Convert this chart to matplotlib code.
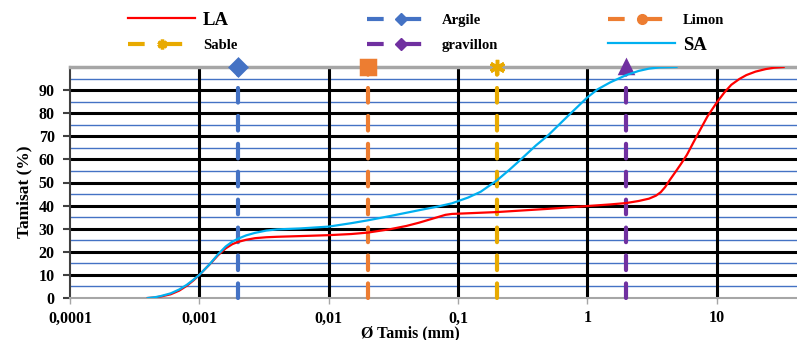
import matplotlib.pyplot as plt
from matplotlib.lines import Line2D
from matplotlib.ticker import FixedLocator, FixedFormatter, NullLocator

plt.rcParams['font.family'] = ['Liberation Serif', 'DejaVu Serif']
plt.rcParams['font.weight'] = 'bold'

# grain size curves (diameter mm, % passing)
la_d = [0.0004, 0.00045, 0.0005, 0.0006, 0.0007, 0.0008, 0.0009, 0.001, 0.0012, 0.0014,
        0.0016, 0.0018, 0.002, 0.0023, 0.0027, 0.0033, 0.004, 0.006, 0.01, 0.015,
        0.02, 0.03, 0.04, 0.05, 0.065, 0.08, 0.09, 0.1, 0.2, 0.5,
        1.0, 1.5, 2.0, 2.5, 3.0, 3.4, 3.7, 4.0, 4.4, 4.8,
        5.3, 5.9, 6.6, 7.5, 8.5, 10, 11.5, 13, 15, 17,
        20, 24, 28, 33]
la_p = [0, 0.2, 0.6, 1.6, 3.2, 5.3, 7.6, 10, 14.5, 18.6,
        21.5, 23.3, 24.3, 25.2, 25.9, 26.3, 26.5, 26.8, 27.2, 27.7,
        28.3, 29.8, 31.2, 32.6, 34.5, 36.0, 36.4, 36.5, 37.2, 38.6,
        39.8, 40.5, 41.1, 42.0, 43.0, 44.3, 45.8, 48.0, 51.5, 54.5,
        58.0, 62.0, 67.2, 73.0, 78.6, 84.5, 89.0, 92.3, 94.8, 96.5,
        98.0, 99.1, 99.7, 100]

sa_d = [0.0004, 0.00045, 0.0005, 0.0006, 0.0007, 0.0008, 0.0009, 0.001, 0.0012, 0.0014,
        0.0016, 0.0018, 0.002, 0.0023, 0.0027, 0.0033, 0.004, 0.006, 0.01, 0.015,
        0.02, 0.03, 0.05, 0.07, 0.09, 0.12, 0.15, 0.2, 0.25, 0.3,
        0.4, 0.5, 0.7, 1.0, 1.2, 1.5, 2.0, 2.5, 3.0, 3.6, 4.9]
sa_p = [0, 0.3, 0.8, 2.0, 3.7, 5.7, 7.9, 10, 14.6, 19.0,
        22.3, 24.4, 25.7, 27.1, 28.2, 29.2, 29.7, 30.1, 30.9, 32.4,
        33.6, 35.5, 38.0, 39.6, 41.0, 43.5, 46.0, 50.9, 55.5, 59.5,
        66.0, 70.5, 78.5, 86.8, 90.3, 93.3, 96.5, 98.3, 99.3, 99.8, 100]

# class limits (mm)
limit_names = ['Argile', 'Limon', 'Sable', 'gravillon']
limit_d = [0.002, 0.02, 0.2, 2]
limit_colors = ['#4472C4', '#ED7D31', '#E8AA00', '#7030A0']
limit_markers = ['D', 's', (6, 2, 0), '^']
limit_msize = [8, 10, 11, 9]

x_ticks = [0.0001, 0.001, 0.01, 0.1, 1, 10]
x_labels = ['0,0001', '0,001', '0,01', '0,1', '1', '10']
y_major = [10, 20, 30, 40, 50, 60, 70, 80, 90]
y_minor = [5, 15, 25, 35, 45, 55, 65, 75, 85, 95]

fig = plt.figure(figsize=(7.97, 3.40), dpi=100)
ax = fig.add_axes([70 / 797, 42 / 340, 727 / 797, 231 / 340])

ax.set_xscale('log')
ax.set_xlim(1e-4, 10 ** 1.622)
ax.set_ylim(0, 100)

# grid
for y in y_minor:
    ax.axhline(y, color='#4472C4', lw=1.0, zorder=1)
for y in y_major:
    ax.axhline(y, color='black', lw=2.2, zorder=1)
for x in x_ticks[1:]:
    ax.axvline(x, color='black', lw=2.2, zorder=1)

ax.plot(la_d, la_p, color='#FF0000', lw=1.6, zorder=4)
ax.plot(sa_d, sa_p, color='#00B0F0', lw=1.6, zorder=4)

for name, d, c, m, s in zip(limit_names, limit_d, limit_colors, limit_markers, limit_msize):
    ax.plot([d, d], [0, 100], color=c, lw=3.0,
            dashes=(3.5, 3.2), dash_capstyle='round',
            marker=m, markevery=[1], ms=s, mec=c, mfc=c, mew=2.5,
            clip_on=False, zorder=3)

ax.xaxis.set_major_locator(FixedLocator(x_ticks))
ax.xaxis.set_major_formatter(FixedFormatter(x_labels))
ax.xaxis.set_minor_locator(NullLocator())
ax.set_yticks([0] + y_major)
ax.tick_params(axis='x', direction='out', length=4, width=1, color='#A6A6A6',
               labelsize=11.5, pad=5)
ax.tick_params(axis='y', direction='out', length=5, width=1.5, color='#404040',
               labelsize=11.5, pad=6)

ax.spines['right'].set_visible(False)
ax.spines['top'].set_color('#A6A6A6')
ax.spines['top'].set_linewidth(2.5)
ax.spines['bottom'].set_color('#A6A6A6')
ax.spines['bottom'].set_linewidth(1.5)
ax.spines['left'].set_color('#404040')
ax.spines['left'].set_linewidth(1.5)

ax.set_ylabel('Tamisat (%)', fontsize=12.5, fontweight='bold')
ax.yaxis.set_label_coords(-0.052, 0.46)
ax.set_xlabel('Ø Tamis (mm)', fontsize=11.5, fontweight='bold')
ax.xaxis.set_label_coords((410 - 70) / 727, -0.118)

# legend: one entry per slot (x of handle start, y of row centre, in pixels)
legend_items = [
    (Line2D([], [], color='#FF0000', lw=1.6), 'LA', 128, 20, 13.5),
    (Line2D([], [], color='#E8AA00', lw=3, dashes=(4, 5), marker=(6, 2, 0), ms=7, mew=2.5),
     'Sable', 128, 45, 10.5),
    (Line2D([], [], color='#4472C4', lw=3, dashes=(4, 5), marker='D', ms=6),
     'Argile', 367, 20, 10.5),
    (Line2D([], [], color='#7030A0', lw=3, dashes=(4, 5), marker='D', ms=6),
     'gravillon', 367, 45, 10.5),
    (Line2D([], [], color='#ED7D31', lw=3, dashes=(4, 5), marker='o', ms=7),
     'Limon', 608, 20, 10.5),
    (Line2D([], [], color='#00B0F0', lw=1.6), 'SA', 608, 45, 13.5),
]
for handle, label, xpix, ypix, fsize in legend_items:
    fig.legend(handles=[handle], labels=[label], loc='center left',
               bbox_to_anchor=(xpix / 797, 1 - ypix / 340),
               frameon=False, borderpad=0, borderaxespad=0,
               handlelength=67 / (fsize * 100 / 72), handletextpad=8 / (fsize * 100 / 72),
               prop={'family': 'Liberation Serif', 'weight': 'bold', 'size': fsize})

fig.savefig('out.png', dpi=100)
